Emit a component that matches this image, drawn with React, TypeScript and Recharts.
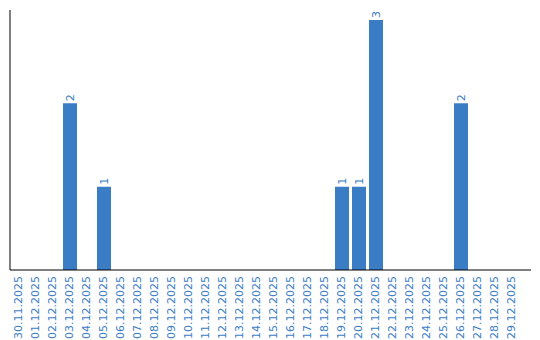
import React from "react"
import { BarChart, Bar, XAxis, YAxis, LabelList } from "recharts"

const dates = [
  "30.11.2025", "01.12.2025", "02.12.2025", "03.12.2025", "04.12.2025", "05.12.2025",
  "06.12.2025", "07.12.2025", "08.12.2025", "09.12.2025", "10.12.2025", "11.12.2025",
  "12.12.2025", "13.12.2025", "14.12.2025", "15.12.2025", "16.12.2025", "17.12.2025",
  "18.12.2025", "19.12.2025", "20.12.2025", "21.12.2025", "22.12.2025", "23.12.2025",
  "24.12.2025", "25.12.2025", "26.12.2025", "27.12.2025", "28.12.2025", "29.12.2025",
]

const counts = [0, 0, 0, 2, 0, 1, 0, 0, 0, 0, 0, 0, 0, 0, 0, 0, 0, 0, 0, 1, 1, 3, 0, 0, 0, 0, 2, 0, 0, 0]

const data = dates.map((date, i) => ({ date, count: counts[i] }))

const BLUE = "#3b7dc4"
const FONT = "Verdana, 'DejaVu Sans', sans-serif"

function DateTick(props: any) {
  const { x, y, payload } = props
  return (
    <g transform={`translate(${x},${y})`}>
      <text
        x={-6}
        y={0}
        dy="0.36em"
        transform="rotate(-90)"
        textAnchor="end"
        fill={BLUE}
        fontSize={11}
        fontFamily={FONT}
      >
        {payload.value}
      </text>
    </g>
  )
}

function ValueLabel(props: any) {
  const { x, y, width, value } = props
  if (!value) return null
  const cx = x + width / 2
  const ty = y - 2
  return (
    <text
      x={cx}
      y={ty}
      dy="0.36em"
      transform={`rotate(-90, ${cx}, ${ty})`}
      textAnchor="start"
      fill={BLUE}
      fontSize={11}
      fontFamily={FONT}
    >
      {value}
    </text>
  )
}

export default function App() {
  return (
    <div style={{ position: "absolute", left: 0, top: 0 }}>
      <BarChart
        width={540}
        height={340}
        data={data}
        margin={{ top: 10, right: 9, left: 9, bottom: 0 }}
        barSize={14}
      >
        <XAxis
          dataKey="date"
          interval={0}
          height={70}
          tickLine={false}
          tickSize={0}
          tickMargin={0}
          axisLine={{ stroke: "#000", strokeWidth: 1 }}
          tick={<DateTick />}
          padding={{ left: 0, right: 11 }}
        />
        <YAxis
          width={1}
          domain={[0, 3.12]}
          tick={false}
          tickLine={false}
          axisLine={{ stroke: "#000", strokeWidth: 1 }}
        />
        <Bar dataKey="count" fill={BLUE} isAnimationActive={false}>
          <LabelList dataKey="count" content={<ValueLabel />} />
        </Bar>
      </BarChart>
    </div>
  )
}
